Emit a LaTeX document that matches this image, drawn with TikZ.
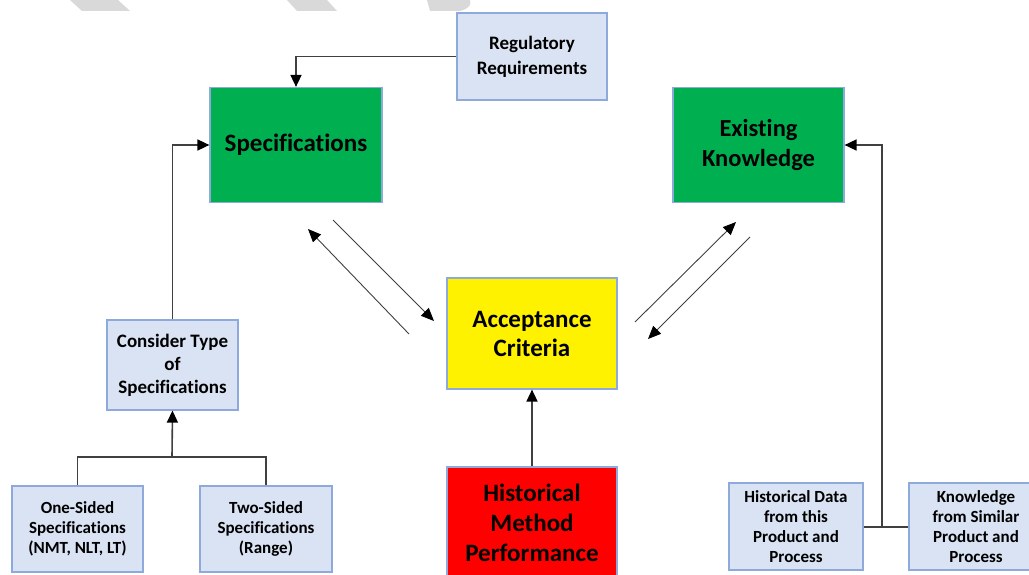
\documentclass[tikz,border=0pt]{standalone}
\usepackage{fontspec}
\setmainfont{Carlito}[Ligatures=CommonOff]
\usetikzlibrary{arrows.meta}
\definecolor{boxblue}{HTML}{DAE3F3}
\definecolor{edgeblue}{HTML}{8EA9DB}
\definecolor{specgreen}{HTML}{00B050}
\definecolor{linegray}{HTML}{404040}
\definecolor{markgray}{HTML}{D9D9D9}
\tikzset{
  card/.style={draw=edgeblue, line width=1.2pt, inner sep=0pt, align=center, font=\bfseries},
  infobox/.style={card, fill=boxblue},
  smallbox/.style={infobox, font=\fontsize{17}{20}\selectfont\bfseries},
  keybox/.style={card, minimum width=171pt, font=\fontsize{25}{30}\selectfont\bfseries},
  link/.style={draw=linegray, line width=1.6pt},
  linkarrow/.style={link, -{Triangle[length=12pt,width=11pt,color=black]}},
  flowarrow/.style={draw=linegray, line width=0.9pt, -{Triangle[length=13pt,width=11pt,color=black]}}
}
\begin{document}
\begin{tikzpicture}[x=1pt,y=-1pt]
\useasboundingbox[fill=white] (0,0) rectangle (1029,575);

% faint band marks along the top edge
\fill[markgray] (70,0) -- (118,0) -- (130,11) -- (82,11) -- cycle;
\fill[markgray] (287,0) -- (327,0) -- (337,11) -- (297,11) -- cycle;
\fill[markgray] (427,0) -- (470,0) to[out=-60,in=0] (458,11) -- (430,11) -- cycle;

% main boxes
\node[infobox, minimum width=150pt, minimum height=87pt, font=\fontsize{19}{25}\selectfont\bfseries]
  (reg) at (532,56.5) {Regulatory\\Requirements};
\node[keybox, fill=specgreen, minimum width=172pt, minimum height=115pt]
  (spec) at (296,145) {Specifications};
\node[keybox, fill=specgreen, minimum height=115pt, font=\fontsize{24.5}{30}\selectfont\bfseries]
  (know) at (758.5,145) {Existing\\Knowledge};
\node[keybox, fill=yellow, minimum width=170pt, minimum height=111pt, font=\fontsize{25}{29}\selectfont\bfseries]
  (accept) at (532,333.5) {Acceptance\\Criteria};
\node[keybox, fill=red, minimum width=170pt, minimum height=112pt]
  (hist) at (532,523) {Historical\\Method\\Performance};

% specification type boxes
\node[infobox, minimum width=131pt, minimum height=90pt, font=\fontsize{19}{23}\selectfont\bfseries]
  (ctype) at (172.5,365) {Consider Type\\of\\Specifications};
\node[smallbox, minimum width=131pt, minimum height=86pt]
  (one) at (77.5,529) {One-Sided\\Specifications\\(NMT, NLT, LT)};
\node[smallbox, minimum width=132pt, minimum height=86pt]
  (two) at (266,529) {Two-Sided\\Specifications\\(Range)};

% knowledge source boxes
\node[smallbox, minimum width=134pt, minimum height=87pt]
  (hdata) at (796,526.5) {Historical Data\\from this\\Product and\\Process};
\node[smallbox, minimum width=134pt, minimum height=87pt]
  (similar) at (976,526.5) {Knowledge\\from Similar\\Product and\\Process};

% junction points of the trees
\coordinate (tjoin) at (172,457);
\coordinate (kjoin) at (882,527);

% connectors
\draw[linkarrow] (reg.west) -| (spec.north);
\draw[linkarrow] (ctype.north) |- (spec.west);
\draw[link] (one.north) |- (tjoin) -| (two.north);
\draw[linkarrow] (tjoin) -- (ctype.south);
\draw[linkarrow] (hist.north) -- (accept.south);
\draw[link] (hdata.east |- kjoin) -- (similar.west |- kjoin);
\draw[linkarrow] (kjoin) |- (know.east);

% two-way exchange arrows around the acceptance criteria
\coordinate (la1) at (409,334);
\coordinate (lb1) at (308,229);
\coordinate (la2) at (333,220);
\coordinate (lb2) at (434,321);
\coordinate (ra1) at (635,322);
\coordinate (rb1) at (736,222);
\coordinate (ra2) at (750,237);
\coordinate (rb2) at (648,339);
\draw[flowarrow] (la1) -- (lb1);
\draw[flowarrow] (la2) -- (lb2);
\draw[flowarrow] (ra1) -- (rb1);
\draw[flowarrow] (ra2) -- (rb2);
\end{tikzpicture}
\end{document}
